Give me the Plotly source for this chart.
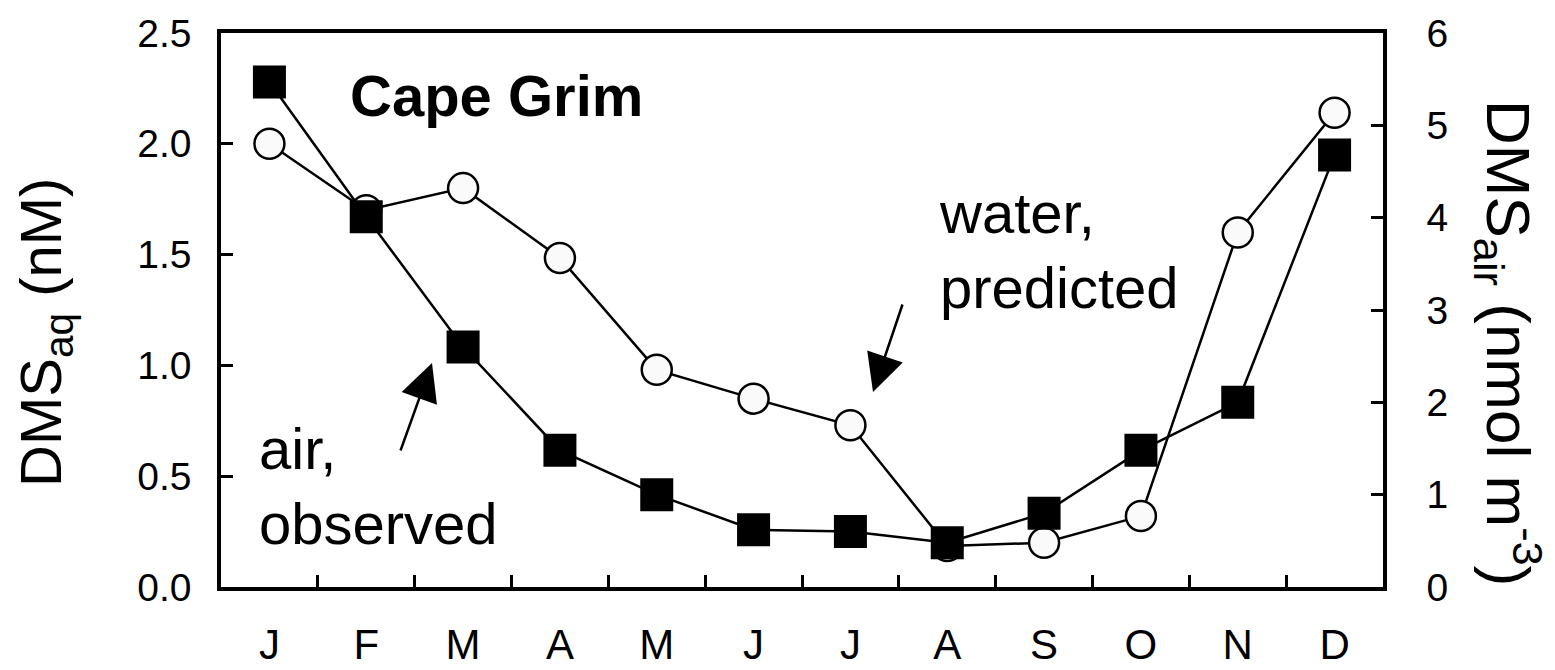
import plotly.graph_objects as go

# Monthly series for Cape Grim
months = ["J", "F", "M", "A", "M", "J", "J", "A", "S", "O", "N", "D"]
month_idx = list(range(12))

# DMS in seawater, predicted (nM, left axis)
water_predicted = [2.00, 1.70, 1.80, 1.485, 0.98, 0.85, 0.73, 0.185, 0.20, 0.32, 1.60, 2.14]
# DMS in air, observed (nmol m-3, right axis)
air_observed = [5.47, 4.01, 2.60, 1.48, 1.00, 0.62, 0.60, 0.48, 0.80, 1.48, 2.00, 4.68]

left_ticks = [0.0, 0.5, 1.0, 1.5, 2.0, 2.5]
left_ticktext = ["0.0", "0.5", "1.0", "1.5", "2.0", "2.5"]
right_ticks = [0, 1, 2, 3, 4, 5, 6]

FONT = "Liberation Sans, Arial, Helvetica, sans-serif"
W, H = 1555, 670
ML, MR, MT, MB = 221, 172, 33, 83
PW, PH = W - ML - MR, H - MT - MB


def px(x):
    return (x - ML) / PW


def py(y):
    return (H - MB - y) / PH


fig = go.Figure()

fig.add_trace(go.Scatter(
    x=month_idx, y=water_predicted, mode="lines+markers",
    name="water, predicted",
    line=dict(color="black", width=2.5),
    marker=dict(symbol="circle", size=30, color="#fafafa",
                line=dict(color="black", width=2.5)),
    yaxis="y",
))

fig.add_trace(go.Scatter(
    x=month_idx, y=air_observed, mode="lines+markers",
    name="air, observed",
    line=dict(color="black", width=2.5),
    marker=dict(symbol="square", size=33, color="black",
                line=dict(color="black", width=0)),
    yaxis="y2",
))

annotations = [
    dict(text="<b>Cape Grim</b>", x=px(348), y=py(96), xref="paper", yref="paper",
         xanchor="left", yanchor="middle", showarrow=False,
         font=dict(size=58, color="black", family=FONT)),
    dict(text="air,<br>observed", x=px(257), y=py(486), xref="paper", yref="paper",
         xanchor="left", yanchor="middle", align="left", showarrow=False,
         font=dict(size=58, color="black", family=FONT)),
    dict(text="water,<br>predicted", x=px(937), y=py(250), xref="paper", yref="paper",
         xanchor="left", yanchor="middle", align="left", showarrow=False,
         font=dict(size=58, color="black", family=FONT)),
    # pointer arrows
    dict(text="", x=px(432), y=py(363), xref="paper", yref="paper",
         showarrow=True, ax=-32, ay=89, axref="pixel", ayref="pixel",
         arrowhead=2, arrowsize=3, arrowwidth=2.5, arrowcolor="black"),
    dict(text="", x=px(873), y=py(392), xref="paper", yref="paper",
         showarrow=True, ax=30, ay=-89, axref="pixel", ayref="pixel",
         arrowhead=2, arrowsize=3, arrowwidth=2.5, arrowcolor="black"),
    # axis titles
    dict(text="DMS<sub>aq</sub> (nM)", x=px(45), y=py(333), xref="paper", yref="paper",
         textangle=-90, showarrow=False, xanchor="center", yanchor="middle",
         font=dict(size=58, color="black", family=FONT)),
    dict(text="DMS<sub>air</sub> (nmol m<sup>-3</sup>)", x=px(1509), y=py(343),
         xref="paper", yref="paper",
         textangle=90, showarrow=False, xanchor="center", yanchor="middle",
         font=dict(size=62, color="black", family=FONT)),
]

fig.update_layout(
    template="none",
    width=W, height=H,
    margin=dict(l=ML, r=MR, t=MT, b=MB, pad=0, autoexpand=False),
    paper_bgcolor="white", plot_bgcolor="white",
    showlegend=False,
    font=dict(family=FONT, color="black"),
    xaxis=dict(
        range=[-0.5, 11.5], tickmode="array", tickvals=month_idx, ticktext=months,
        ticks="", showgrid=False, zeroline=False, automargin=False,
        showline=True, mirror=True, linecolor="black", linewidth=3.5,
        tickfont=dict(size=42, family=FONT, color="black"),
        ticklabelstandoff=18,
        minor=dict(tickmode="array", tickvals=[i + 0.5 for i in range(11)],
                   ticks="inside", ticklen=12, tickwidth=2.5, tickcolor="black",
                   showgrid=False),
    ),
    yaxis=dict(
        range=[0, 2.5], tickmode="array", tickvals=left_ticks, ticktext=left_ticktext,
        ticks="inside", ticklen=12, tickwidth=2.5, tickcolor="black",
        showgrid=False, zeroline=False, automargin=False,
        showline=True, linecolor="black", linewidth=3.5,
        tickfont=dict(size=39, family=FONT, color="black"),
        ticklabelstandoff=18,
    ),
    yaxis2=dict(
        range=[0, 6], tickmode="array", tickvals=right_ticks,
        overlaying="y", side="right",
        ticks="inside", ticklen=12, tickwidth=2.5, tickcolor="black",
        showgrid=False, zeroline=False, automargin=False,
        showline=True, linecolor="black", linewidth=3.5,
        tickfont=dict(size=39, family=FONT, color="black"),
        ticklabelstandoff=32,
    ),
    annotations=annotations,
)

fig.write_html("out.html")
